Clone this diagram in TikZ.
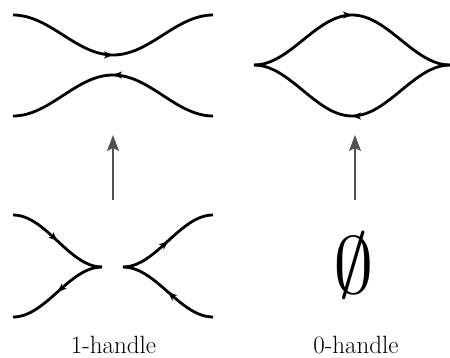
\documentclass[tikz,border=0pt]{standalone}
\usepackage{fontspec}
\usetikzlibrary{arrows.meta,decorations.markings}
\begin{document}
\begin{tikzpicture}[x=1pt,y=-1pt]
\tikzset{
  strand/.style={line width=2.8pt, line cap=butt},
  midarrow/.style={postaction={decorate},
    decoration={markings, mark=at position #1 with
      {\arrow{Stealth[length=9pt,width=7pt,inset=2.5pt]}}}},
  move/.style={draw=black!68, line width=2pt,
    -{Stealth[length=16pt,width=12pt,inset=3pt]}},
  caption/.style={font=\fontsize{25}{30}\selectfont, inner sep=0pt, anchor=base}
}
\useasboundingbox (0,0) rectangle (450,358);

% after the 1-handle: two strands passing each other
\draw[strand, midarrow=0.5] (13,15) .. controls (50,15) and (76,55) .. (113,55)
  .. controls (150,55) and (176,15) .. (213,15);
\draw[strand, midarrow=0.5] (213,116) .. controls (176,116) and (150,75) .. (113,75)
  .. controls (76,75) and (50,116) .. (13,116);

% after the 0-handle: a closed lens
\draw[strand, midarrow=0.5] (254,65) .. controls (290,65) and (316,15) .. (352,15)
  .. controls (388,15) and (414,65) .. (450,65);
\draw[strand, midarrow=0.5] (450,65) .. controls (414,65) and (388,116) .. (352,116)
  .. controls (316,116) and (290,65) .. (254,65);

% before the 1-handle: two cusps facing each other
\draw[strand, midarrow=0.5] (13,215) .. controls (46,215) and (69,267) .. (102,267);
\draw[strand, midarrow=0.5] (102,267) .. controls (69,267) and (46,317) .. (13,317);
\draw[strand, midarrow=0.5] (123,267) .. controls (156,267) and (180,215) .. (213,215);
\draw[strand, midarrow=0.5] (213,317) .. controls (180,317) and (156,267) .. (123,267);

% before the 0-handle: nothing
\node[scale=8.1, inner sep=0pt] (empty) at (354,265) {$\emptyset$};

% moves
\coordinate (from1) at (113,200);
\coordinate (to1) at (113,135);
\coordinate (from0) at (355,200);
\coordinate (to0) at (355,135);
\draw[move] (from1) -- (to1);
\draw[move] (from0) -- (to0);

% captions
\node[caption] (lab1) at (113.5,353.5) {1-handle};
\node[caption] (lab0) at (356,353.5) {0-handle};
\end{tikzpicture}
\end{document}
